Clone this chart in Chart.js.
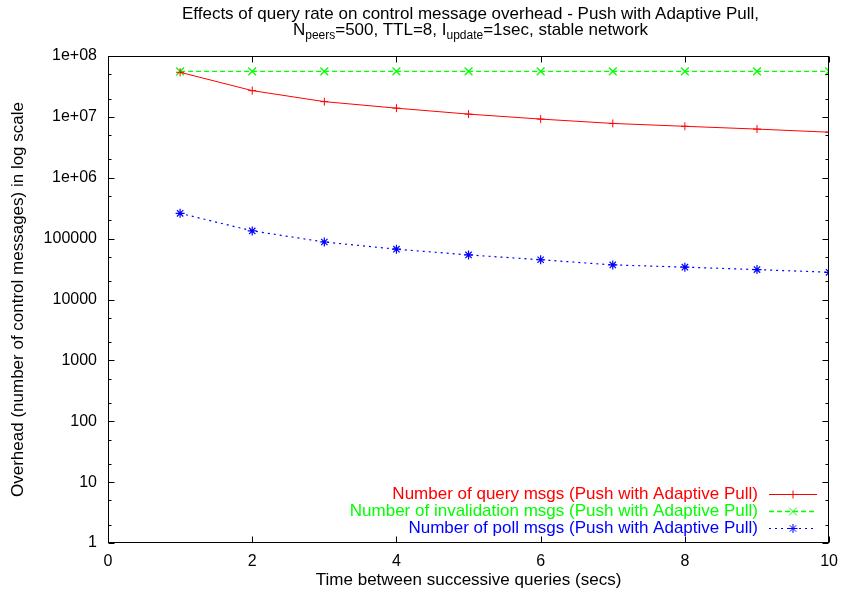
<!DOCTYPE html>
<html>
<head>
<meta charset="utf-8">
<script src="https://cdn.jsdelivr.net/npm/chart.js@4"></script>
<style>
body { margin: 0; background: #fff; }
#wrap { position: relative; width: 847px; height: 598px; }
#title {
  position: absolute; left: 106px; width: 729px; top: 6px;
  text-align: center; font: 17px "Liberation Sans", Arial, sans-serif;
  line-height: 16px; color: #000;
}
#title sub { font-size: 12px; vertical-align: -4px; line-height: 0; }
</style>
</head>
<body>
<div id="wrap">
<canvas id="chart" width="847" height="598"></canvas>
<div id="title">Effects of query rate on control message overhead - Push with Adaptive Pull,<br>N<sub>peers</sub>=500, TTL=8, I<sub>update</sub>=1sec, stable network</div>
</div>
<script>
// данные
var xValues = [1, 2, 3, 4, 5, 6, 7, 8, 9, 10];
var queryMsgs = [5.4e7, 2.7e7, 1.78e7, 1.39e7, 1.11e7, 9.2e6, 7.8e6, 7.0e6, 6.3e6, 5.6e6];
var invalidationMsgs = [5.6e7, 5.6e7, 5.6e7, 5.6e7, 5.6e7, 5.6e7, 5.6e7, 5.6e7, 5.6e7, 5.6e7];
var pollMsgs = [2.6e5, 1.34e5, 8.8e4, 6.7e4, 5.4e4, 4.5e4, 3.7e4, 3.4e4, 3.1e4, 2.8e4];

var xTicks = [0, 2, 4, 6, 8, 10];
var yTicks = [1, 10, 100, 1000, 10000, 100000, 1e6, 1e7, 1e8];
var yTickLabels = ["1", "10", "100", "1000", "10000", "100000", "1e+06", "1e+07", "1e+08"];
var yMinorTicks = [2, 5, 20, 50, 200, 500, 2000, 5000, 2e4, 5e4, 2e5, 5e5, 2e6, 5e6, 2e7, 5e7];

var labels = [
  "Number of query msgs (Push with Adaptive Pull)",
  "Number of invalidation msgs (Push with Adaptive Pull)",
  "Number of poll msgs (Push with Adaptive Pull)"
];

function toPoints(arr) {
  return xValues.map(function (x, i) { return { x: x, y: arr[i] }; });
}

var FONT = "'Liberation Sans', Arial, sans-serif";
Chart.defaults.font.family = FONT;
Chart.defaults.font.size = 16;
Chart.defaults.color = "#000";

// рамка и засечки внутрь, как в gnuplot
var framePlugin = {
  id: "frame",
  afterDraw: function (chart) {
    var ctx = chart.ctx, a = chart.chartArea;
    var xs = chart.scales.x, ys = chart.scales.y;
    ctx.save();
    ctx.strokeStyle = "#000";
    ctx.lineWidth = 1;
    ctx.setLineDash([]);
    var L = Math.round(a.left) + 0.5, R = Math.round(a.right) - 0.5;
    var T = Math.round(a.top) + 0.5, B = Math.round(a.bottom) - 0.5;
    ctx.strokeRect(L, T, R - L, B - T);
    ctx.beginPath();
    xTicks.forEach(function (v) {
      var px = Math.round(xs.getPixelForValue(v)) + 0.5;
      ctx.moveTo(px, B); ctx.lineTo(px, B - 6);
      ctx.moveTo(px, T); ctx.lineTo(px, T + 6);
    });
    yTicks.forEach(function (v) {
      var py = Math.round(ys.getPixelForValue(v)) + 0.5;
      ctx.moveTo(L, py); ctx.lineTo(L + 6, py);
      ctx.moveTo(R, py); ctx.lineTo(R - 6, py);
    });
    yMinorTicks.forEach(function (v) {
      var py = Math.round(ys.getPixelForValue(v)) + 0.5;
      ctx.moveTo(L, py); ctx.lineTo(L + 3, py);
      ctx.moveTo(R, py); ctx.lineTo(R - 3, py);
    });
    ctx.stroke();

    // легенда справа внизу: текст справа налево, образец линии после текста
    ctx.font = "17px " + FONT;
    ctx.textAlign = "right";
    ctx.textBaseline = "middle";
    chart.data.datasets.forEach(function (ds, i) {
      var y = 494 + i * 17;
      ctx.fillStyle = ds.borderColor;
      ctx.fillText(ds.label, 758, y);
      ctx.strokeStyle = ds.borderColor;
      ctx.lineWidth = ds.borderWidth;
      ctx.setLineDash(ds.borderDash || []);
      ctx.beginPath();
      ctx.moveTo(769, y + 0.5); ctx.lineTo(817, y + 0.5);
      ctx.stroke();
      ctx.setLineDash([]);
      ctx.lineWidth = 1;
      Chart.helpers.drawPoint(ctx, { pointStyle: ds.pointStyle, radius: ds.pointRadius, rotation: 0, borderWidth: 1 }, 793, y + 0.5);
    });
    ctx.restore();
  }
};

var chart = new Chart(document.getElementById("chart"), {
  type: "line",
  data: {
    datasets: [{
      label: labels[0],
      data: toPoints(queryMsgs),
      borderColor: "#ff0000",
      borderWidth: 1,
      pointStyle: "cross",
      pointRadius: 4,
      pointBorderWidth: 1
    }, {
      label: labels[1],
      data: toPoints(invalidationMsgs),
      borderColor: "#00ff00",
      borderWidth: 1.3,
      borderDash: [5, 3],
      pointStyle: "crossRot",
      pointRadius: 5.5,
      pointBorderWidth: 1.3
    }, {
      label: labels[2],
      data: toPoints(pollMsgs),
      borderColor: "#0000ff",
      borderWidth: 1.2,
      borderDash: [2, 4],
      pointStyle: "star",
      pointRadius: 4.5,
      pointBorderWidth: 1.2
    }]
  },
  options: {
    responsive: false,
    animation: false,
    layout: { padding: { top: 56, right: 10, left: 0, bottom: 0 } },
    plugins: {
      legend: { display: false },
      title: { display: false },
      tooltip: { enabled: false }
    },
    scales: {
      x: {
        type: "linear",
        min: 0, max: 10,
        grid: { display: false, drawTicks: false },
        border: { display: false },
        afterBuildTicks: function (s) { s.ticks = xTicks.map(function (v) { return { value: v }; }); },
        afterFit: function (s) { s.height = 55; },
        ticks: { padding: 9, maxRotation: 0 },
        title: { display: true, text: "Time between successive queries (secs)", font: { size: 17 }, padding: { top: 0, bottom: 7 } }
      },
      y: {
        type: "logarithmic",
        min: 1, max: 1e8,
        grid: { display: false, drawTicks: false },
        border: { display: false },
        afterBuildTicks: function (s) { s.ticks = yTicks.map(function (v) { return { value: v }; }); },
        afterFit: function (s) { s.width = 108; },
        ticks: {
          padding: 11,
          callback: function (v) { var i = yTicks.indexOf(v); return i >= 0 ? yTickLabels[i] : ""; }
        },
        title: { display: true, text: "Overhead (number of control messages) in log scale", font: { size: 17 }, padding: { top: 8, bottom: 0 } }
      }
    }
  },
  plugins: [framePlugin]
});
</script>
</body>
</html>
